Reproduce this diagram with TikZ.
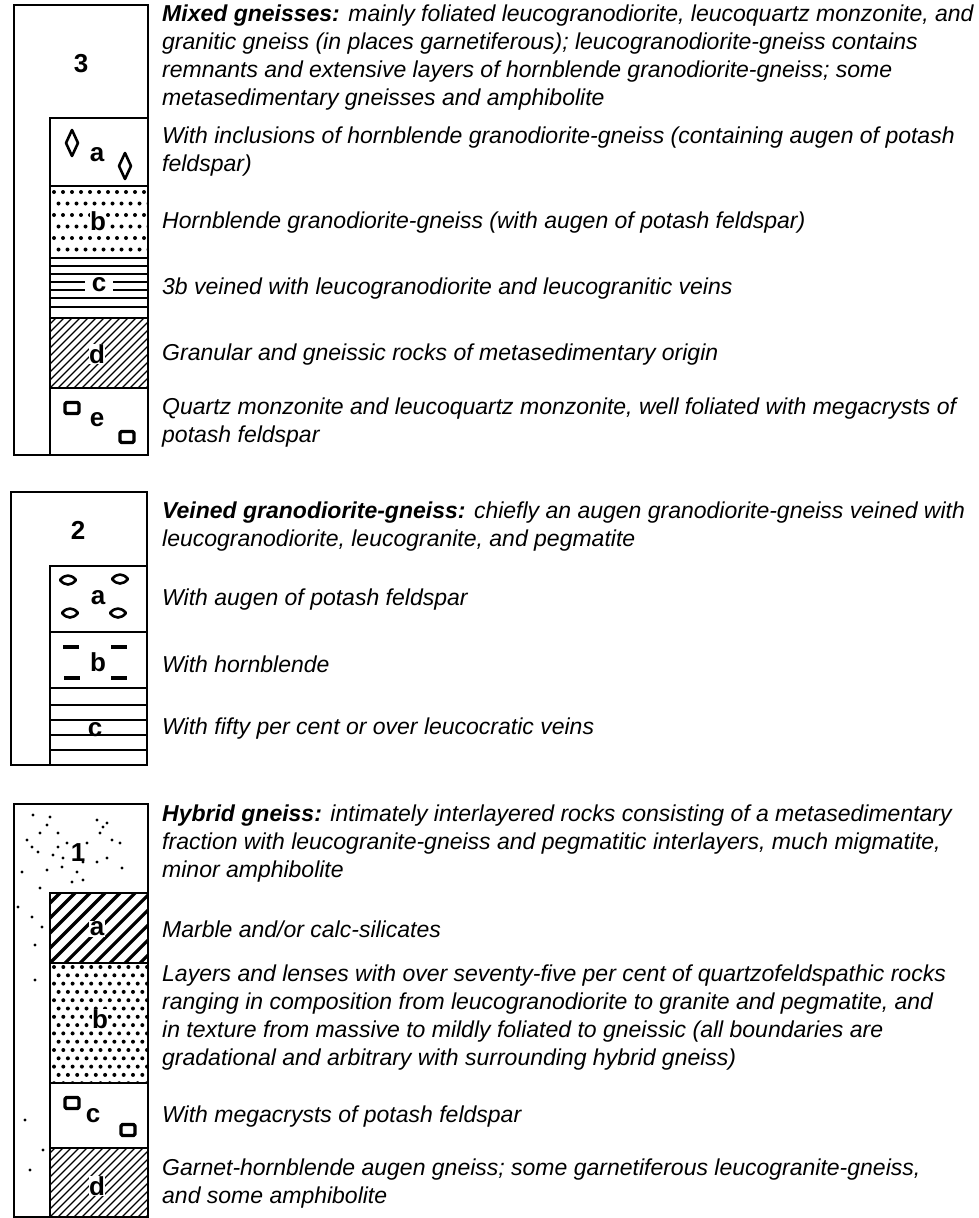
\documentclass[tikz,border=0pt]{standalone}
\usepackage{fontspec}
\setmainfont{Liberation Sans}

\begin{document}
\begin{tikzpicture}[x=1pt, y=-1pt,
    frame/.style={line width=2.2pt},
    bound/.style={line width=1.6pt},
    legend/.style={anchor=west, align=left, inner sep=0pt,
        font=\fontsize{23}{28}\selectfont\itshape},
    unit/.style={font=\fontsize{26}{26}\selectfont\bfseries, inner sep=0.5pt},
    sym/.style={line width=2.6pt, line join=round},
    crystal/.style={line width=3.4pt, line join=round, rounded corners=1.5pt},
    hatch/.style={line width=1.3pt}]
    \useasboundingbox (0,0) rectangle (979,1218);

    % column 3
    \draw[frame] (14,5) rectangle (148,455);
    \draw[bound] (50,455) -- (50,118) -- (148,118);
    \foreach \y in {186,258,318,388}
        \draw[bound] (50,\y) -- (148,\y);
    \begin{scope}
        \clip (50,186) rectangle (148,258);
        \foreach \r in {0,...,6}
            \foreach \c in {0,...,11}
                \fill ({54+\c*9+mod(\r,2)*4.5}, {192+\r*11.5}) circle (2pt);
    \end{scope}
    \foreach \y in {266,274,282,290,298,307}
        \draw[hatch] (50,\y) -- (148,\y);
    \begin{scope}
        \clip (50,318) rectangle (148,388);
        \foreach \i in {-10,...,13}
            \draw[hatch] (50+\i*8,388) -- ++(80,-80);
    \end{scope}
    \foreach \x/\y in {72/143, 125/166}
        \draw[sym] (\x,\y-13) -- (\x+6,\y) -- (\x,\y+13) -- (\x-6,\y) -- cycle;
    \foreach \x/\y in {72/408, 127/437}
        \draw[crystal] (\x-7,\y-5.5) rectangle (\x+7,\y+5.5);
    \node[unit] (u3) at (81,64) {3};
    \node[unit] (u3a) at (97,155) {a};
    \node[unit, fill=white] (u3b) at (98,221) {b};
    \node[unit, fill=white, inner xsep=7pt] (u3c) at (99,285) {c};
    \node[unit, fill=white] (u3d) at (97,354) {d};
    \node[unit] (u3e) at (97,420) {e};

    % column 2
    \draw[frame] (11,492) rectangle (147,765);
    \draw[bound] (50,765) -- (50,566) -- (147,566);
    \foreach \y in {632,688}
        \draw[bound] (50,\y) -- (147,\y);
    \foreach \x/\y in {68/580, 120/579, 70/613, 118/613}
        \draw[sym] (\x-8,\y) .. controls (\x-3,\y-6) and (\x+3,\y-6) .. (\x+8,\y)
            .. controls (\x+3,\y+6) and (\x-3,\y+6) .. (\x-8,\y) -- cycle;
    \foreach \x/\y in {71/647, 119/647, 72/678, 119/678}
        \draw[line width=4.5pt] (\x-8,\y) -- (\x+8,\y);
    \foreach \y in {705,720,735,750}
        \draw[hatch] (50,\y) -- (147,\y);
    \node[unit] (u2) at (78,530) {2};
    \node[unit] (u2a) at (98,598) {a};
    \node[unit] (u2b) at (98,662) {b};
    \node[unit] (u2c) at (95,730) {c};

    % column 1
    \draw[frame] (14,804) rectangle (148,1217);
    \draw[bound] (50,1217) -- (50,893) -- (148,893);
    \foreach \y in {963,1083,1148}
        \draw[bound] (50,\y) -- (148,\y);
    \begin{scope}
        \clip (50,893) rectangle (148,963);
        \foreach \i in {-6,...,7}
            \draw[line width=3.2pt] (50+\i*15,963) -- ++(75,-75);
    \end{scope}
    \begin{scope}
        \clip (50,963) rectangle (148,1083);
        \foreach \r in {0,...,14}
            \foreach \c in {0,...,11}
                \fill ({54+\c*9.3+mod(\r,2)*4.6}, {967+\r*8.3}) circle (2pt);
    \end{scope}
    \begin{scope}
        \clip (50,1148) rectangle (148,1217);
        \foreach \i in {-10,...,13}
            \draw[hatch] (50+\i*8,1217) -- ++(80,-80);
    \end{scope}
    \foreach \x/\y in {72/1103, 128/1130}
        \draw[crystal] (\x-7,\y-5.5) rectangle (\x+7,\y+5.5);
    \foreach \x/\y in {33/815, 50/817, 47/825, 27/840, 40/833, 58/833, 67/843,
                      58/847, 32/847, 38/852, 53/855, 63/858, 22/872, 47/870,
                      62/867, 83/862, 97/820, 103/827, 107/823, 100/833, 112/840,
                      120/843, 87/843, 97/862, 107/858, 77/872, 83/880, 72/882,
                      122/868, 40/888, 18/907, 32/917, 42/927, 35/945, 35/980,
                      25/1120, 43/1150, 30/1170}
        \fill (\x,\y) circle (1.7pt);
    \node[unit] (u1) at (78,853) {1};
    \node[unit, fill=white] (u1a) at (97,929) {a};
    \node[unit, fill=white] (u1b) at (100,1019) {b};
    \node[unit] (u1c) at (93,1116) {c};
    \node[unit, fill=white] (u1d) at (97,1186) {d};

    % legend texts
    \node[legend] (t3) at (162,58) {\textbf{Mixed gneisses:} mainly foliated leucogranodiorite, leucoquartz monzonite, and\\granitic gneiss (in places garnetiferous); leucogranodiorite-gneiss contains\\remnants and extensive layers of hornblende granodiorite-gneiss; some\\metasedimentary gneisses and amphibolite};
    \node[legend] (t3a) at (162,152) {With inclusions of hornblende granodiorite-gneiss (containing augen of potash\\feldspar)};
    \node[legend] (t3b) at (162,223) {Hornblende granodiorite-gneiss (with augen of potash feldspar)};
    \node[legend] (t3c) at (162,289) {3b veined with leucogranodiorite and leucogranitic veins};
    \node[legend] (t3d) at (162,355) {Granular and gneissic rocks of metasedimentary origin};
    \node[legend] (t3e) at (162,423) {Quartz monzonite and leucoquartz monzonite, well foliated with megacrysts of\\potash feldspar};
    \node[legend] (t2) at (162,527) {\textbf{Veined granodiorite-gneiss:} chiefly an augen granodiorite-gneiss veined with\\leucogranodiorite, leucogranite, and pegmatite};
    \node[legend] (t2a) at (162,600) {With augen of potash feldspar};
    \node[legend] (t2b) at (162,664) {With hornblende};
    \node[legend] (t2c) at (162,729) {With fifty per cent or over leucocratic veins};
    \node[legend] (t1) at (162,844) {\textbf{Hybrid gneiss:} intimately interlayered rocks consisting of a metasedimentary\\fraction with leucogranite-gneiss and pegmatitic interlayers, much migmatite,\\minor amphibolite};
    \node[legend] (t1a) at (162,929) {Marble and/or calc-silicates};
    \node[legend] (t1b) at (162,1018) {Layers and lenses with over seventy-five per cent of quartzofeldspathic rocks\\ranging in composition from leucogranodiorite to granite and pegmatite, and\\in texture from massive to mildly foliated to gneissic (all boundaries are\\gradational and arbitrary with surrounding hybrid gneiss)};
    \node[legend] (t1c) at (162,1117) {With megacrysts of potash feldspar};
    \node[legend] (t1d) at (162,1184) {Garnet-hornblende augen gneiss; some garnetiferous leucogranite-gneiss,\\and some amphibolite};
\end{tikzpicture}
\end{document}
